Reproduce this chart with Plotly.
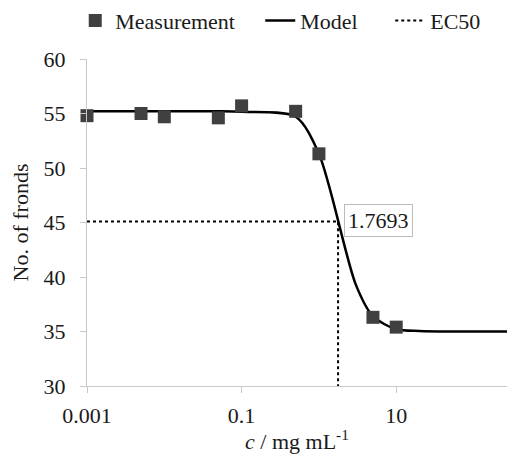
import plotly.graph_objects as go

# Measurements
conc = [0.001, 0.005, 0.01, 0.05, 0.1, 0.5, 1, 5, 10]
fronds = [54.8, 55.0, 54.7, 54.6, 55.7, 55.2, 51.3, 36.3, 35.4]

# Model curve
model_x = [0.001, 0.005, 0.01, 0.05, 0.1, 0.5, 1, 3, 5, 10, 20, 50, 100, 1000]
model_y = [55.2, 55.2, 55.2, 55.2, 55.15, 54.7, 51.3, 39.3, 36.4, 35.2, 35.05, 35.0, 35.0, 35.0]

ec50 = 1.7693
ec50_y = 45.1
y_min = 30
x_min = 0.001

font_family = "Liberation Serif"
txt = "#1a1a1a"

fig = go.Figure()
fig.add_trace(go.Scatter(
    x=model_x, y=model_y, mode="lines", name="Model", legendwidth=85, legendrank=2,
    line=dict(color="black", width=2.5, shape="spline", smoothing=0.8),
))
fig.add_trace(go.Scatter(
    x=[x_min, ec50, ec50], y=[ec50_y, ec50_y, y_min], mode="lines", name="EC50", legendrank=3,
    line=dict(color="black", width=2, dash="dot"),
))
fig.add_trace(go.Scatter(
    x=conc, y=fronds, mode="markers", name="Measurement", legendwidth=140, legendrank=1,
    marker=dict(symbol="square", size=13, color="#404040"), cliponaxis=False,
))

fig.add_annotation(
    x=0.248, y=ec50_y, xref="x", yref="y", text="1.7693", showarrow=False,
    xanchor="left", yanchor="middle", xshift=6, yshift=1,
    font=dict(family=font_family, size=22, color=txt),
    bgcolor="white", bordercolor="#bbbbbb", borderwidth=1, borderpad=3,
)

fig.update_layout(
    width=507, height=454,
    margin=dict(l=87, r=0, t=59, b=68, autoexpand=False),
    paper_bgcolor="white", plot_bgcolor="white",
    font=dict(family=font_family, size=22, color=txt),
    showlegend=True,
    legend=dict(orientation="h", x=-0.028, y=1.181, xanchor="left", yanchor="top",
                traceorder="normal",
                font=dict(family=font_family, size=22, color=txt), tracegroupgap=0),
    xaxis=dict(type="log", range=[-3, 2.433], tickvals=[0.001, 0.1, 10],
               ticktext=["0.001", "0.1", "10"],
               tickfont=dict(family=font_family, size=22, color=txt),
               showgrid=False, zeroline=False, showline=True, linecolor="#c8c8c8",
               linewidth=1, ticks="outside", ticklen=6, tickcolor="#c8c8c8",
               ticklabelstandoff=4,
               title=dict(text="<i>c</i> / mg mL<sup>-1</sup>", standoff=4,
                          font=dict(family=font_family, size=22, color=txt))),
    yaxis=dict(range=[30, 60], dtick=5, showgrid=False, zeroline=False,
               tickfont=dict(family=font_family, size=22, color=txt),
               showline=True, linecolor="#c8c8c8", linewidth=1,
               ticks="outside", ticklen=6, tickcolor="#c8c8c8",
               ticklabelstandoff=10,
               title=dict(text="No. of fronds", standoff=8,
                          font=dict(family=font_family, size=22, color=txt))),
)

fig.write_html("out.html", config={"displayModeBar": False},
               post_script="document.body.style.margin='0';")
